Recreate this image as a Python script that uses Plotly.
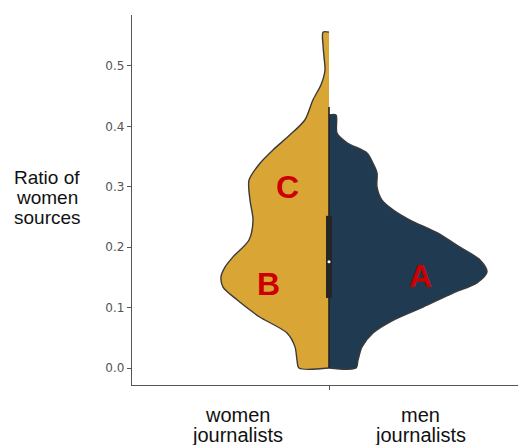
import plotly.graph_objects as go

# Half-violin profiles: ratio levels and density half-widths for each group
women_ratio = [0.0, 0.013, 0.035, 0.058, 0.084, 0.096, 0.113, 0.134, 0.151, 0.167, 0.184,
               0.212, 0.245, 0.278, 0.311, 0.339, 0.361, 0.386, 0.411, 0.444, 0.469,
               0.493, 0.515, 0.535, 0.556]
women_density = [0.30, 0.32, 0.34, 0.42, 0.69, 0.79, 0.92, 1.06, 1.08, 1.04, 0.96,
                 0.80, 0.76, 0.79, 0.80, 0.69, 0.56, 0.39, 0.24, 0.16, 0.08,
                 0.04, 0.05, 0.06, 0.06]

men_ratio = [0.0, 0.013, 0.035, 0.058, 0.079, 0.101, 0.124, 0.141, 0.159, 0.179, 0.200,
             0.224, 0.245, 0.262, 0.278, 0.300, 0.323, 0.339, 0.356, 0.373, 0.389, 0.419]
men_density = [0.27, 0.29, 0.33, 0.44, 0.64, 0.94, 1.24, 1.48, 1.58, 1.51, 1.31,
               1.08, 0.81, 0.64, 0.53, 0.48, 0.48, 0.44, 0.38, 0.18, 0.08, 0.07]

# Inner box summary of the pooled ratios
whisker_low, q1, median, q3, whisker_high = 0.0, 0.116, 0.176, 0.252, 0.432

# Group names, one entry per text line
group_labels = [["women", "journalists"], ["men", "journalists"]]
group_pos = [-0.92, 0.91]

region_labels = ["A", "B", "C"]
region_x = [0.91, -0.61, -0.42]
region_y = [0.152, 0.139, 0.30]

y_title_lines = ["Ratio of", "women", "sources"]

y_ticks = [0.0, 0.1, 0.2, 0.3, 0.4, 0.5]

GOLD = "#D9A636"
NAVY = "#1F3A51"
OUTLINE = "#3a3a3a"
FONT = "Liberation Sans, Arial"

fig = go.Figure()

# Women half (left side)
wx = [0] + [-d for d in women_density] + [0]
wy = [women_ratio[0]] + women_ratio + [women_ratio[-1]]
fig.add_trace(go.Scatter(x=wx, y=wy, fill="toself", fillcolor=GOLD, mode="lines",
                         line=dict(color=OUTLINE, width=1.4, shape="spline", smoothing=0.8),
                         hoverinfo="skip"))

# Men half (right side)
mx = [0] + men_density + [0]
my = [men_ratio[0]] + men_ratio + [men_ratio[-1]]
fig.add_trace(go.Scatter(x=mx, y=my, fill="toself", fillcolor=NAVY, mode="lines",
                         line=dict(color=OUTLINE, width=1.4, shape="spline", smoothing=0.8),
                         hoverinfo="skip"))

# Whisker line
fig.add_trace(go.Scatter(x=[0, 0], y=[whisker_low, whisker_high], mode="lines",
                         line=dict(color="#222222", width=1.6), hoverinfo="skip"))
# Interquartile bar
fig.add_trace(go.Scatter(x=[0, 0], y=[q1, q3], mode="lines",
                         line=dict(color="#252525", width=6), hoverinfo="skip"))
# Median dot
fig.add_trace(go.Scatter(x=[0], y=[median], mode="markers",
                         marker=dict(color="white", size=3), hoverinfo="skip"))

for lab, x, y in zip(region_labels, region_x, region_y):
    fig.add_annotation(x=x, y=y, text=f"<b>{lab}</b>", showarrow=False,
                       font=dict(family=FONT, size=32, color="#CC0000"),
                       xref="x", yref="y")

# Category names under the axis, each line placed on its own
for lines, x in zip(group_labels, group_pos):
    for i, line in enumerate(lines):
        fig.add_annotation(x=x, y=-0.081 - 0.054 * i, text=line, showarrow=False,
                           xref="x", yref="paper", xanchor="center", yanchor="middle",
                           font=dict(family=FONT, size=20, color="#111111"))

# Horizontal y-axis title
for i, line in enumerate(y_title_lines):
    fig.add_annotation(x=-0.220, y=0.562 - 0.054 * i, text=line, showarrow=False,
                       xref="paper", yref="paper", xanchor="center", yanchor="middle",
                       font=dict(family=FONT, size=19, color="#111111"))

fig.update_layout(
    width=518, height=445,
    margin=dict(l=132, r=0, t=15, b=60),
    paper_bgcolor="white", plot_bgcolor="white",
    showlegend=False,
    xaxis=dict(range=[-1.97, 1.89], showgrid=False, zeroline=False,
               showline=True, linecolor="#555555", linewidth=1.3,
               tickvals=[0], ticktext=[""], ticks="outside", ticklen=4,
               tickcolor="#555555"),
    yaxis=dict(range=[-0.0281, 0.5844], showgrid=False, zeroline=False,
               showline=True, linecolor="#555555", linewidth=1.3,
               tickvals=y_ticks, ticktext=[f"{v:.1f}" for v in y_ticks],
               ticks="outside", ticklen=4, tickcolor="#555555",
               tickfont=dict(family="DejaVu Sans", size=12, color="#555555")),
)

fig.write_html("out.html")
